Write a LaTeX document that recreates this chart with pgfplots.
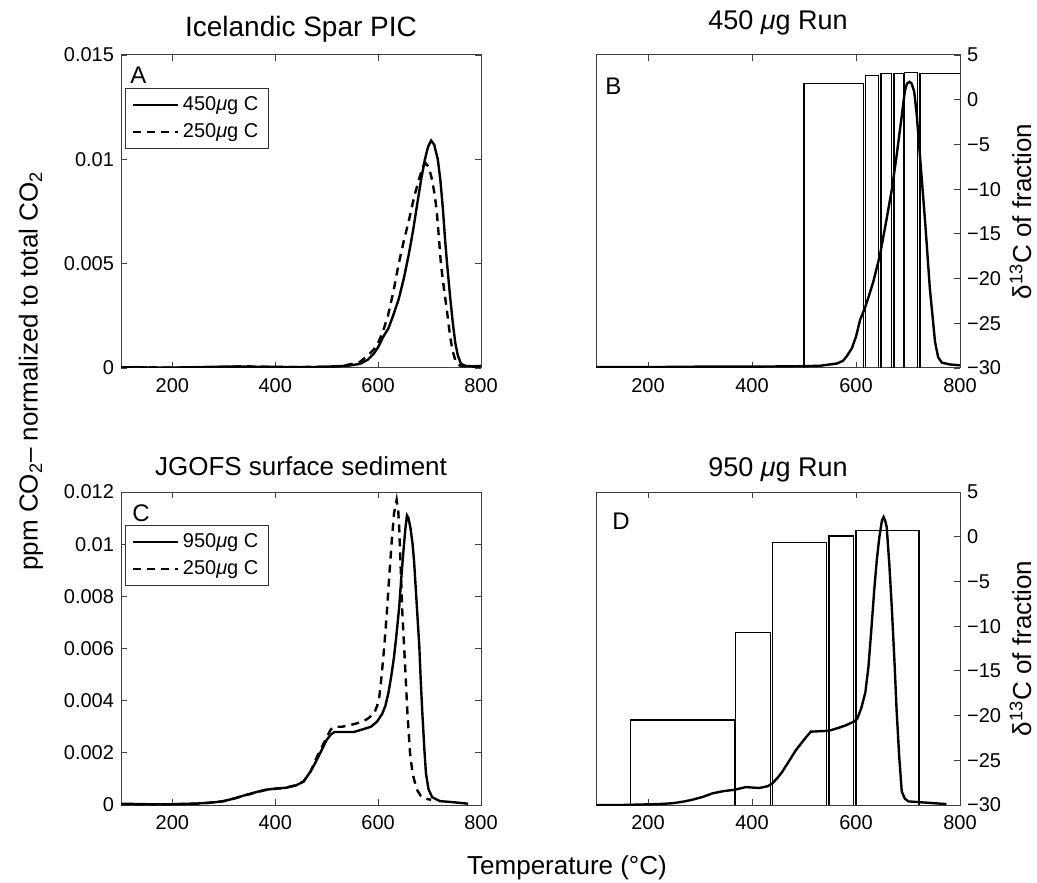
\documentclass[border=0pt]{standalone}
\usepackage{fontspec}
\setmainfont{Liberation Sans}
\usepackage{pgfplots}
\pgfplotsset{compat=1.18}
\tikzset{letter/.style={anchor=north west, inner sep=0pt, font=\fontsize{12}{14}\selectfont}}
\pgfplotsset{
  common/.style={
    scale only axis, height=156.5pt,
    xmin=100, xmax=800, xtick={200,400,600,800},
    tick align=inside, major tick length=3pt,
    axis line style={draw=black!75, line width=0.5pt},
    every tick/.style={draw=black!75, line width=0.45pt},
    tick label style={font=\fontsize{10}{12}\selectfont, text=black},
    xticklabel style={yshift=-1.5pt},
    /pgf/number format/assume math mode=true,
    scaled y ticks=false,
    xtick pos=both,
    title style={font=\fontsize{13.5}{15}\selectfont, at={(0.5,1)}, anchor=base},
    legend image code/.code={\draw[#1] (0pt,0pt) -- (22.5pt,0pt);},
    legend style={at={(axis description cs:0,1)}, anchor=north west, xshift=2pt, yshift=-16.5pt,
      draw=black!80, line width=0.5pt, font=\fontsize{10}{12}\selectfont,
      inner xsep=3pt, inner ysep=2pt, row sep=1pt, nodes={inner sep=2pt}, cells={anchor=west}},
  },
  leftax/.style={common, width=180pt, ymin=0, ytick pos=both},
  rightax/.style={common, width=182pt, ymin=-30, ymax=5,
    ytick={-30,-25,-20,-15,-10,-5,0,5},
    yticklabels={−30,−25,−20,−15,−10,−5,0,5},
    ytick pos=right, yticklabel pos=right,
    ylabel={δ\textsuperscript{13}C of fraction},
    ylabel style={font=\fontsize{13}{15}\selectfont, at={(axis description cs:1.166,0.5)}, anchor=center, inner sep=0pt}},
  solidc/.style={black, line width=1.2pt},
  dashc/.style={black, line width=1.2pt, dash pattern=on 4pt off 3pt},
  boxc/.style={black, line width=0.6pt, forget plot},
}
\begin{document}
\begin{tikzpicture}
\useasboundingbox (0,0) rectangle (518.5pt,-441pt);

% Panel A
\begin{axis}[leftax, at={(60.5pt,-27.5pt)}, anchor=north west, ymax=0.015,
  ytick={0,0.005,0.01,0.015}, yticklabels={0,0.005,0.01,0.015},
  title={Icelandic Spar PIC}, title style={yshift=3pt, font=\fontsize{14}{16}\selectfont}]
\addplot[solidc] coordinates {(100,0.00003)(130,0.00004)(160,0.00002)(200,0.00002)(240,0.00003)(280,0.00005)(320,0.00007)(360,0.00006)(400,0.00005)(440,0.00004)(480,0.00005)(520,0.00008)(545,0.00012)(565,0.0002)(580,0.0004)(592,0.0007)(600,0.001)(610,0.0015)(620,0.0019)(629,0.0025)(640,0.0033)(650,0.0043)(660,0.0055)(668,0.0066)(675,0.0077)(684,0.0091)(691,0.0100)(697,0.0106)(703,0.0109)(709,0.0107)(716,0.0100)(721,0.0090)(726,0.0076)(730,0.0062)(734,0.0050)(740,0.0034)(745,0.0022)(750,0.0012)(755,0.0006)(761,0.0002)(770,0.0001)(785,0.00008)(800,0.0001)};
\addlegendentry{450{\itshape μ}g C}
\addplot[dashc] coordinates {(100,0.00002)(150,0.00003)(200,0.00002)(250,0.00004)(300,0.00006)(340,0.00008)(380,0.00006)(420,0.00005)(460,0.00005)(500,0.00006)(530,0.0001)(550,0.0002)(565,0.0003)(580,0.0006)(592,0.0009)(600,0.0012)(610,0.0018)(619,0.0025)(630,0.0037)(640,0.0050)(650,0.0061)(660,0.0071)(670,0.0082)(680,0.0091)(688,0.0097)(693,0.0098)(699,0.0096)(705,0.0090)(710,0.0083)(714,0.0075)(718,0.0063)(722,0.0050)(728,0.0038)(734,0.0027)(740,0.0015)(745,0.0008)(751,0.0003)(760,0.0001)(780,0.00006)(800,0.00005)};
\addlegendentry{250{\itshape μ}g C}
\node[letter] at (rel axis cs:0,1) [xshift=4.5pt, yshift=-6pt] {A};
\end{axis}

% Panel B
\begin{axis}[rightax, at={(298pt,-27.5pt)}, anchor=north west,
  title={450 {\itshape μ}g Run}, title style={yshift=6.5pt}]
\addplot[boxc] coordinates {(500,-30)(500,1.85)(614,1.85)(614,-30)};
\addplot[boxc] coordinates {(618,-30)(618,2.74)(644,2.74)(644,-30)};
\addplot[boxc] coordinates {(648,-30)(648,2.96)(669,2.96)(669,-30)};
\addplot[boxc] coordinates {(673,-30)(673,2.96)(691,2.96)(691,-30)};
\addplot[boxc] coordinates {(693,-30)(693,3.07)(719,3.07)(719,-30)};
\addplot[boxc] coordinates {(723,-30)(723,2.96)(850,2.96)};
\addplot[solidc] coordinates {(100,-29.9)(200,-29.9)(300,-29.85)(400,-29.85)(500,-29.8)(531,-29.75)(563,-29.5)(575,-29.2)(582,-28.7)(592,-27.8)(600,-26.5)(605,-25.3)(608,-24.6)(617,-23.3)(625,-21.9)(633,-20.4)(646,-17.4)(659,-13.3)(669,-10)(678,-6.3)(688,-1.8)(694,1.0)(698,1.8)(703,2.0)(707,1.8)(712,0.9)(717,-1.8)(723,-6.3)(733,-13.7)(742,-21.1)(752,-27.1)(758,-28.8)(765,-29.4)(780,-29.6)(800,-29.7)};
\node[letter] at (rel axis cs:0,1) [xshift=4.5pt, yshift=-11.5pt] {B};
\end{axis}

% Panel C
\begin{axis}[leftax, at={(60.5pt,-246pt)}, anchor=north west, ymax=0.012,
  ytick={0,0.002,0.004,0.006,0.008,0.01,0.012}, yticklabels={0,0.002,0.004,0.006,0.008,0.01,0.012},
  title={JGOFS surface sediment}, title style={yshift=2.5pt, font=\fontsize{13}{15}\selectfont}]
\addplot[solidc] coordinates {(100,0.00005)(150,0.00003)(200,0.00003)(250,0.00006)(280,0.0001)(300,0.00015)(320,0.00025)(340,0.00037)(360,0.00048)(380,0.00058)(400,0.00063)(420,0.00066)(440,0.00075)(455,0.0009)(469,0.0013)(480,0.0017)(490,0.0021)(500,0.0025)(508,0.0027)(515,0.0028)(530,0.0028)(553,0.0028)(570,0.0029)(586,0.0030)(598,0.0032)(608,0.0035)(614,0.0038)(620,0.0043)(626,0.0050)(631,0.0057)(636,0.0066)(641,0.0076)(645,0.0087)(649,0.0097)(653,0.0106)(656,0.0111)(659,0.0110)(663,0.0106)(667,0.0100)(670,0.0093)(675,0.0077)(680,0.0061)(683,0.0047)(686,0.0035)(690,0.0021)(693,0.0012)(698,0.0006)(705,0.0003)(720,0.00015)(750,0.0001)(775,0.00005)};
\addlegendentry{950{\itshape μ}g C}
\addplot[dashc] coordinates {(100,0.00003)(150,0.00002)(200,0.00003)(250,0.00005)(280,0.0001)(300,0.00015)(320,0.00025)(340,0.00036)(360,0.00047)(380,0.00057)(400,0.00062)(420,0.00066)(440,0.00076)(455,0.0009)(469,0.0013)(480,0.0018)(490,0.0022)(500,0.0026)(508,0.0029)(515,0.0030)(530,0.0030)(553,0.0031)(570,0.0032)(579,0.0033)(592,0.0035)(598,0.0038)(602,0.0041)(607,0.0050)(612,0.0061)(617,0.0074)(621,0.0086)(626,0.0100)(631,0.0112)(636,0.0117)(639,0.0113)(641,0.0106)(644,0.0090)(647,0.0074)(652,0.0055)(657,0.0035)(662,0.0020)(667,0.0012)(675,0.0006)(683,0.00035)(690,0.00025)(703,0.0002)};
\addlegendentry{250{\itshape μ}g C}
\node[letter] at (rel axis cs:0,1) [xshift=5.5pt, yshift=-6pt] {C};
\end{axis}

% Panel D
\begin{axis}[rightax, at={(298pt,-246pt)}, anchor=north west,
  title={950 {\itshape μ}g Run}, title style={yshift=1.75pt}]
\addplot[boxc] coordinates {(167,-30)(167,-20.5)(366,-20.5)(366,-30)};
\addplot[boxc] coordinates {(368,-30)(368,-10.7)(436,-10.7)(436,-30)};
\addplot[boxc] coordinates {(439,-30)(439,-0.67)(544,-0.67)(544,-30)};
\addplot[boxc] coordinates {(548,-30)(548,0.07)(595,0.07)(595,-30)};
\addplot[boxc] coordinates {(600,-30)(600,0.67)(721,0.67)(721,-30)};
\addplot[solidc] coordinates {(100,-30)(150,-30)(184,-29.95)(220,-29.9)(248,-29.8)(270,-29.6)(286,-29.4)(305,-29.1)(324,-28.7)(345,-28.45)(366,-28.3)(388,-28.0)(414,-28.1)(430,-27.9)(439,-27.6)(450,-26.9)(458,-26.3)(470,-25.2)(484,-23.9)(500,-22.7)(513,-21.8)(530,-21.75)(548,-21.7)(565,-21.4)(580,-21.1)(595,-20.7)(602,-20.4)(610,-19.2)(618,-17.4)(624,-14.5)(630,-10)(635,-6)(640,-2.6)(645,0)(650,1.85)(653,2.2)(656,1.8)(659,1.1)(664,-3)(669,-8.1)(674,-14)(678,-19.3)(683,-24.5)(688,-28.5)(694,-29.3)(701,-29.6)(726,-29.7)(750,-29.8)(774,-29.9)};
\node[letter] at (rel axis cs:0,1) [xshift=8pt, yshift=-10.5pt] {D};
\end{axis}

% shared labels
\node[rotate=90, font=\fontsize{13}{15}\selectfont] at (15.5pt,-185.5pt) {ppm CO\textsubscript{2}– normalized to total CO\textsubscript{2}};
\node[anchor=base, font=\fontsize{13}{15}\selectfont] at (283.5pt,-437pt) {Temperature (°C)};
\end{tikzpicture}
\end{document}
